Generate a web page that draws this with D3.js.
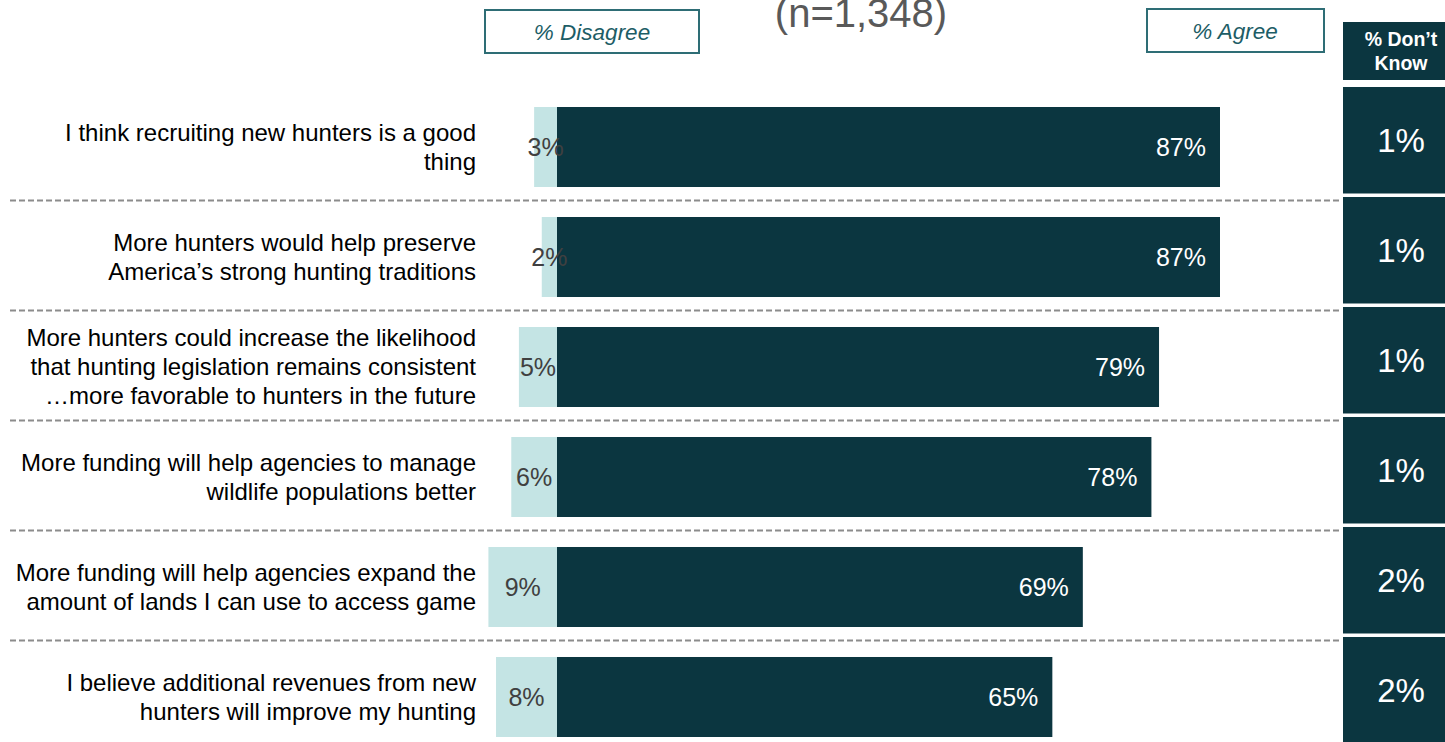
<!DOCTYPE html>
<html>
<head>
<meta charset="utf-8">
<script src="https://cdn.jsdelivr.net/npm/d3@7"></script>
<style>
  html, body { margin: 0; padding: 0; background: #ffffff; }
  svg { display: block; font-family: Arial, "Liberation Sans", sans-serif; }
</style>
</head>
<body>
<svg id="chart" width="1445" height="742"></svg>
<script>
// Statements (each entry is the wrapped lines of one label)
const statements = [
  ["I think recruiting new hunters is a good", "thing"],
  ["More hunters would help preserve", "America\u2019s strong hunting traditions"],
  ["More hunters could increase the likelihood", "that hunting legislation remains consistent", "\u2026more favorable to hunters in the future"],
  ["More funding will help agencies to manage", "wildlife populations better"],
  ["More funding will help agencies expand the", "amount of lands I can use to access game"],
  ["I believe additional revenues from new", "hunters will improve my hunting"]
];
const disagree = [3, 2, 5, 6, 9, 8];
const agree = [87, 87, 79, 78, 69, 65];
const dontKnow = [1, 1, 1, 1, 2, 2];

const sampleNote = "(n=1,348)";
const disagreeHeader = "% Disagree";
const agreeHeader = "% Agree";
const dontKnowHeader = ["% Don\u2019t", "Know"];

const DARK = "#0b3640";
const LIGHT = "#c4e4e4";
const TEAL = "#2e6d75";

const svg = d3.select("#chart");
const rows = d3.range(statements.length);

// Diverging horizontal scale: 0 sits where the two segments meet
const x = d3.scaleLinear().domain([0, 87]).range([557, 1220]);
const y = d3.scaleBand().domain(rows)
  .range([92, 752]).paddingInner(0.2727).paddingOuter(0.1364);
const step = y.step();

// Sample size note at the top edge
svg.append("text")
  .attr("x", 861).attr("y", 27)
  .attr("text-anchor", "middle")
  .attr("font-size", 40)
  .attr("fill", "#595959")
  .text(sampleNote);

// Column headers
const headers = svg.append("g");
headers.append("rect").attr("x", 485).attr("y", 10).attr("width", 214).attr("height", 43)
  .attr("fill", "#fff").attr("stroke", TEAL).attr("stroke-width", 2);
headers.append("text").attr("x", 592).attr("y", 40).attr("text-anchor", "middle")
  .attr("font-size", 22.5).attr("font-style", "italic").attr("fill", "#1d5d66")
  .text(disagreeHeader);
headers.append("rect").attr("x", 1147).attr("y", 9).attr("width", 177).attr("height", 43)
  .attr("fill", "#fff").attr("stroke", TEAL).attr("stroke-width", 2);
headers.append("text").attr("x", 1235).attr("y", 39).attr("text-anchor", "middle")
  .attr("font-size", 22.5).attr("font-style", "italic").attr("fill", "#1d5d66")
  .text(agreeHeader);
headers.append("rect").attr("x", 1343).attr("y", 22).attr("width", 110).attr("height", 58)
  .attr("fill", DARK);
headers.append("text").attr("x", 1401).attr("y", 46).attr("text-anchor", "middle")
  .attr("font-size", 19.5).attr("font-weight", "bold").attr("fill", "#fff")
  .selectAll("tspan").data(dontKnowHeader).join("tspan")
  .attr("x", 1401).attr("dy", (d, i) => i === 0 ? 0 : 24).text(d => d);

// Dashed separators between rows
svg.append("g").selectAll("line").data(rows.slice(0, -1)).join("line")
  .attr("x1", 10).attr("x2", 1340)
  .attr("y1", i => y(i) + y.bandwidth() + (step - y.bandwidth()) / 2 - 1.5)
  .attr("y2", i => y(i) + y.bandwidth() + (step - y.bandwidth()) / 2 - 1.5)
  .attr("stroke", "#8c8c8c").attr("stroke-width", 2).attr("stroke-dasharray", "6,3");

// Statement labels, right-aligned
const labels = svg.append("g").selectAll("text").data(rows).join("text")
  .attr("text-anchor", "end")
  .attr("font-size", 24)
  .attr("fill", "#000");
labels.each(function(i) {
  const lines = statements[i];
  const cy = y(i) + y.bandwidth() / 2;
  d3.select(this).selectAll("tspan").data(lines).join("tspan")
    .attr("x", 476)
    .attr("y", (d, k) => cy + (k - (lines.length - 1) / 2) * 29 + 8.4)
    .text(d => d);
});

// Disagree segments (extend left of zero)
const dis = svg.append("g");
dis.selectAll("rect").data(rows).join("rect")
  .attr("x", i => 2 * x(0) - x(disagree[i]))
  .attr("y", i => y(i))
  .attr("width", i => x(disagree[i]) - x(0))
  .attr("height", y.bandwidth())
  .attr("fill", LIGHT);

// Agree segments
const agr = svg.append("g");
agr.selectAll("rect").data(rows).join("rect")
  .attr("x", x(0))
  .attr("y", i => y(i))
  .attr("width", i => x(agree[i]) - x(0))
  .attr("height", y.bandwidth())
  .attr("fill", DARK);

// Agree value labels
svg.append("g").selectAll("text").data(rows).join("text")
  .attr("x", i => x(agree[i]) - 14)
  .attr("y", i => y(i) + y.bandwidth() / 2 + 8.8)
  .attr("text-anchor", "end")
  .attr("font-size", 25)
  .attr("fill", "#fff")
  .text(i => agree[i] + "%");

// Disagree value labels, centred in each segment
svg.append("g").selectAll("text").data(rows).join("text")
  .attr("x", i => x(0) - (x(disagree[i]) - x(0)) / 2)
  .attr("y", i => y(i) + y.bandwidth() / 2 + 8.8)
  .attr("text-anchor", "middle")
  .attr("font-size", 25)
  .attr("fill", "#404040")
  .text(i => disagree[i] + "%");

// Don't know column
const dk = svg.append("g");
dk.selectAll("rect").data(rows).join("rect")
  .attr("x", 1343)
  .attr("y", i => y(i) - 20)
  .attr("width", 110)
  .attr("height", step - 3.5)
  .attr("fill", DARK);
dk.selectAll("text").data(rows).join("text")
  .attr("x", 1401)
  .attr("y", i => y(i) - 20 + (step - 3.5) / 2 + 12)
  .attr("text-anchor", "middle")
  .attr("font-size", 33)
  .attr("fill", "#fff")
  .text(i => dontKnow[i] + "%");
</script>
</body>
</html>
